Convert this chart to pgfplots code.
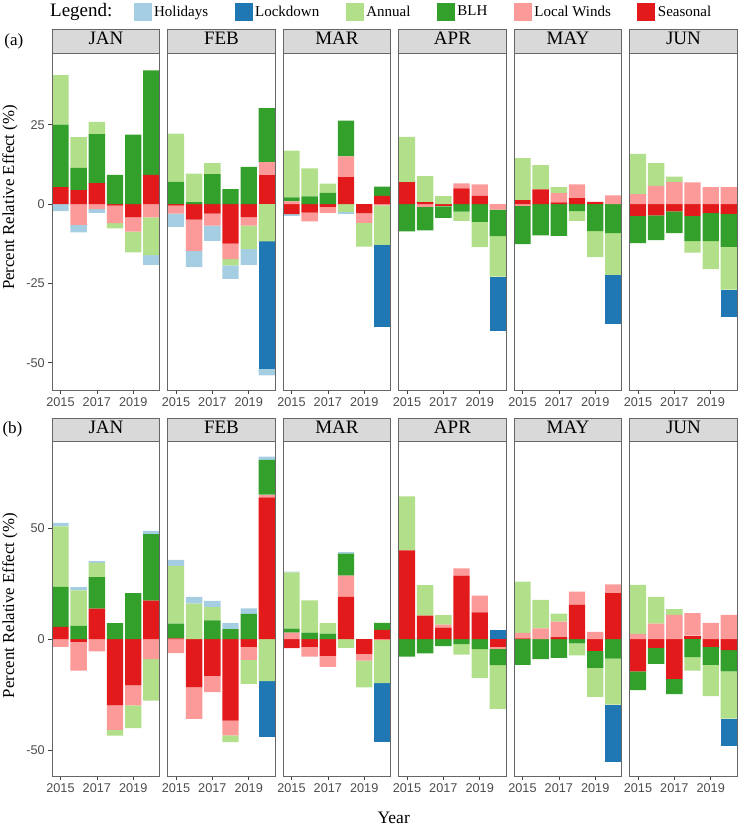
\documentclass[border=0pt]{standalone}
\usepackage{fontspec}
\setmainfont{Liberation Serif}
\newfontfamily\sansfont{Liberation Sans}
\usepackage{pgfplots}
\usepackage{pgfplotstable}
\pgfplotsset{compat=1.18}

\definecolor{cHol}{HTML}{A6CEE3}
\definecolor{cLock}{HTML}{1F78B4}
\definecolor{cAnn}{HTML}{B2DF8A}
\definecolor{cBLH}{HTML}{33A02C}
\definecolor{cLW}{HTML}{FB9A99}
\definecolor{cSeas}{HTML}{E31A1C}
\definecolor{stripgray}{HTML}{D9D9D9}

% ---------- Row (a) ----------
\pgfplotstableread{
yr Hol Lock Ann BLH LW Seas
2015 -2.2 0 15.6 19.7 0 5.3
2016 -2.3 0 9.7 7.0 -6.6 4.4
2017 -1.2 0 3.9 15.4 -1.6 6.6
2018 0 0 -1.7 9.2 -5.5 -0.5
2019 0 0 -6.5 21.9 -4.5 -4.2
2020 -3.1 0 -11.9 32.9 -4.2 9.2
}\tJANa
\pgfplotstableread{
yr Hol Lock Ann BLH LW Seas
2015 -4.2 0 15.2 7.0 -2.5 -0.5
2016 -5.1 0 9.0 0.6 -9.9 -4.9
2017 -4.8 0 3.5 9.4 -3.8 -3.0
2018 -4.3 0 -1.9 4.7 -4.9 -12.5
2019 -5.0 0 -7.4 11.7 -2.7 -4.1
2020 -2.1 -40.1 -11.8 17.1 3.8 9.3
}\tFEBa
\pgfplotstableread{
yr Hol Lock Ann BLH LW Seas
2015 -0.5 0 14.7 1.3 0.8 -3.2
2016 0 0 8.8 2.4 -2.8 -2.7
2017 0 0 2.9 3.5 -1.9 -0.9
2018 -0.6 0 -2.5 11.3 6.5 8.5
2019 0 0 -7.5 0 -3.0 -2.9
2020 0 -25.8 -12.5 2.9 -0.4 2.6
}\tMARa
\pgfplotstableread{
yr Hol Lock Ann BLH LW Seas
2015 0 0 14.3 -8.6 0 6.9
2016 0 0 8.2 -7.4 -0.9 0.6
2017 0 0 2.5 -3.7 0 -0.7
2018 0 0 -2.9 -2.4 1.6 4.9
2019 0 0 -8.0 -5.6 3.6 2.6
2020 0 -17.0 -12.8 -8.3 -1.8 0
}\tAPRa
\pgfplotstableread{
yr Hol Lock Ann BLH LW Seas
2015 0 0 13.3 -12.1 -0.5 1.2
2016 0 0 7.7 -9.9 0 4.6
2017 0 0 1.9 -10.0 2.9 0.5
2018 0 0 -3.1 -2.2 4.3 1.9
2019 0 0 -8.2 -8.5 0 0.7
2020 0 -15.5 -13.1 -9.2 2.7 0
}\tMAYa
\pgfplotstableread{
yr Hol Lock Ann BLH LW Seas
2015 0 0 12.7 -8.6 3.1 -3.7
2016 0 0 7.2 -7.8 5.7 -3.6
2017 0 0 1.7 -6.9 6.9 -2.3
2018 0 0 -3.6 -8.0 6.8 -3.7
2019 0 0 -8.8 -8.9 5.3 -2.8
2020 0 -8.7 -13.5 -10.4 5.3 -3.1
}\tJUNa

% ---------- Row (b) ----------
\pgfplotstableread{
yr Hol Lock Ann BLH LW Seas
2015 1.6 0 27.2 18.0 -3.4 5.5
2016 1.4 0 16.0 6.0 -12.9 -1.2
2017 0.8 0 6.4 14.1 -5.5 13.8
2018 0 0 -2.5 7.2 -11.1 -29.7
2019 0 0 -10.3 20.7 -8.9 -20.8
2020 1.5 0 -18.6 29.8 -9.0 17.4
}\tJANb
\pgfplotstableread{
yr Hol Lock Ann BLH LW Seas
2015 2.7 0 26.0 6.6 -6.3 0.4
2016 3.0 0 16.0 0 -14.2 -21.6
2017 2.8 0 5.9 8.5 -7.3 -16.5
2018 2.7 0 -3.1 4.5 -6.6 -36.6
2019 2.5 0 -10.8 11.4 -5.9 -3.4
2020 1.5 -25.2 -18.9 15.6 1.2 63.8
}\tFEBb
\pgfplotstableread{
yr Hol Lock Ann BLH LW Seas
2015 0.3 0 25.3 1.8 3.0 -4.0
2016 0 0 14.5 3.0 -4.4 -3.4
2017 0 0 4.7 2.5 -4.9 -7.5
2018 0.6 0 -3.9 9.9 9.6 19.0
2019 0 0 -12.1 0 -3.0 -6.6
2020 0 -26.5 -19.4 3.1 -0.4 4.2
}\tMARb
\pgfplotstableread{
yr Hol Lock Ann BLH LW Seas
2015 0 0 24.3 -7.8 0 39.9
2016 0 0 13.7 -6.4 0 10.6
2017 0 0 4.2 -3.1 1.4 5.2
2018 0 0 -4.7 -2.2 3.3 28.6
2019 0 0 -12.9 -4.5 7.5 12.1
2020 0 4.3 -19.6 -7.4 -1.0 -3.3
}\tAPRb
\pgfplotstableread{
yr Hol Lock Ann BLH LW Seas
2015 0 0 23.1 -11.5 2.4 0.4
2016 0 0 12.8 -9.0 4.9 0
2017 0 0 3.6 -8.4 7.0 0.9
2018 0 0 -5.4 -1.9 5.8 15.6
2019 0 0 -13.0 -7.5 3.3 -5.4
2020 0 -25.6 -20.7 -8.7 4.0 20.7
}\tMAYb
\pgfplotstableread{
yr Hol Lock Ann BLH LW Seas
2015 0 0 22.0 -8.4 2.4 -14.5
2016 0 0 12.0 -7.2 7.0 -3.9
2017 0 0 2.6 -6.9 10.9 -17.8
2018 0 0 -6.0 -8.1 10.1 1.6
2019 0 0 -14.1 -8.1 7.3 -3.4
2020 0 -12.4 -21.2 -9.6 10.9 -4.9
}\tJUNb

\pgfplotsset{
  facetbase/.style={
    scale only axis, width=107.3pt,
    xmin=2014.55, xmax=2020.45,
    ybar stacked, bar width=0.9,
    xtick={2015,2017,2019}, xticklabels={2015,2017,2019},
    ytick=\empty,
    tick align=outside, xtick pos=bottom, ytick pos=left,
    major tick length=4pt,
    tick style={black!75, line width=0.7pt},
    axis line style={black!60, line width=0.8pt},
    tick label style={font=\sansfont\fontsize{12.7}{14}\selectfont, text=black!70},
    /pgf/number format/assume math mode=true,
    every axis title/.style={at={(0.5,1)}, anchor=south, fill=stripgray,
      draw=black!60, line width=0.8pt, minimum width=107.3pt,
      minimum height=23.5pt, inner sep=0pt, outer sep=0pt,
      font=\fontsize{19}{21}\selectfont, text height=0.66em, text depth=0pt},
  },
  rowa/.style={height=336.7pt, ymin=-58.6, ymax=47.5},
  rowb/.style={height=334.3pt, ymin=-61.5, ymax=88.8},
  seg/.style={fill=#1, draw=none,
    legend image code/.code={\fill[#1] (0pt,-9pt) rectangle (18pt,9pt);}},
}

\newcommand\facet[5]{%
  \begin{axis}[facetbase, hide axis, at={(#1,#2)}, anchor=south west, #4]
    \addplot[seg=cSeas] table[x=yr, y expr={min(\thisrow{Seas},0)}] {#3};
    \addplot[seg=cLW]   table[x=yr, y expr={min(\thisrow{LW},0)}] {#3};
    \addplot[seg=cBLH]  table[x=yr, y expr={min(\thisrow{BLH},0)}] {#3};
    \addplot[seg=cAnn]  table[x=yr, y expr={min(\thisrow{Ann},0)}] {#3};
    \addplot[seg=cLock] table[x=yr, y expr={min(\thisrow{Lock},0)}] {#3};
    \addplot[seg=cHol]  table[x=yr, y expr={min(\thisrow{Hol},0)}] {#3};
  \end{axis}
  \begin{axis}[facetbase, axis on top, at={(#1,#2)}, anchor=south west, #4, #5]
    \addplot[seg=cSeas] table[x=yr, y expr={max(\thisrow{Seas},0)}] {#3};
    \addplot[seg=cLW]   table[x=yr, y expr={max(\thisrow{LW},0)}] {#3};
    \addplot[seg=cBLH]  table[x=yr, y expr={max(\thisrow{BLH},0)}] {#3};
    \addplot[seg=cAnn]  table[x=yr, y expr={max(\thisrow{Ann},0)}] {#3};
    \addplot[seg=cLock] table[x=yr, y expr={max(\thisrow{Lock},0)}] {#3};
    \addplot[seg=cHol]  table[x=yr, y expr={max(\thisrow{Hol},0)}] {#3};
  \end{axis}}

\begin{document}
\begin{tikzpicture}
\useasboundingbox (0pt,0pt) rectangle (745pt,827pt);

% Row (a)
\facet{52.3pt}{437pt}{\tJANa}{rowa, ytick={-50,-25,0,25}, yticklabels={-50,-25,0,25}}{title={JAN},
  legend entries={Seasonal,Local Winds,BLH,Annual,Lockdown,Holidays}, reverse legend, legend columns=6,
  legend style={at={(0.755,1.1236)}, anchor=west, draw=none, fill=none, inner sep=0pt,
    nodes={inner sep=2.5pt},
    font=\fontsize{15}{17}\selectfont, /tikz/every even column/.append style={column sep=24pt}}}
\facet{167.8pt}{437pt}{\tFEBa}{rowa}{title={FEB}}
\facet{283.3pt}{437pt}{\tMARa}{rowa}{title={MAR}}
\facet{398.8pt}{437pt}{\tAPRa}{rowa}{title={APR}}
\facet{514.3pt}{437pt}{\tMAYa}{rowa}{title={MAY}}
\facet{629.8pt}{437pt}{\tJUNa}{rowa}{title={JUN}}

% Row (b)
\facet{52.3pt}{51pt}{\tJANb}{rowb, ytick={-50,0,50}, yticklabels={-50,0,50}}{title={JAN}}
\facet{167.8pt}{51pt}{\tFEBb}{rowb}{title={FEB}}
\facet{283.3pt}{51pt}{\tMARb}{rowb}{title={MAR}}
\facet{398.8pt}{51pt}{\tAPRb}{rowb}{title={APR}}
\facet{514.3pt}{51pt}{\tMAYb}{rowb}{title={MAY}}
\facet{629.8pt}{51pt}{\tJUNb}{rowb}{title={JUN}}

% texts
\node[anchor=west, font=\fontsize{19}{21}\selectfont, inner sep=0pt] at (50pt,815.3pt) {Legend:};
\node[font=\fontsize{17}{19}\selectfont] at (13.8pt,785.3pt) {(a)};
\node[font=\fontsize{17}{19}\selectfont] at (12.5pt,398pt) {(b)};
\node[rotate=90, font=\fontsize{16.8}{18}\selectfont] at (10pt,629.5pt) {Percent Relative Effect (\%)};
\node[rotate=90, font=\fontsize{16.8}{18}\selectfont] at (10pt,221.2pt) {Percent Relative Effect (\%)};
\node[anchor=base, font=\fontsize{17.5}{19}\selectfont, inner sep=0pt] at (393.7pt,3pt) {Year};
\end{tikzpicture}
\end{document}
